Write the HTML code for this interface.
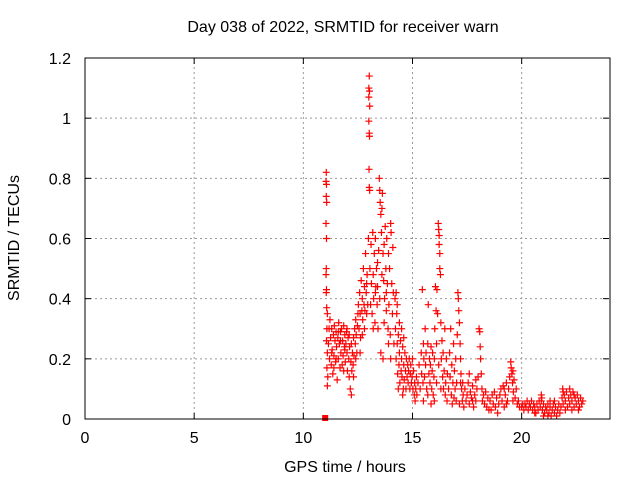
<!DOCTYPE html>
<html><head><meta charset="utf-8"><style>
body{margin:0;background:#fff}
svg{display:block;font-family:"Liberation Sans",sans-serif}
</style></head><body>
<svg id="chart" width="640" height="480" xmlns="http://www.w3.org/2000/svg">
<text x="343" y="32" font-size="16" text-anchor="middle">Day 038 of 2022, SRMTID for receiver warn</text>
<text x="345" y="472" font-size="16" text-anchor="middle">GPS time / hours</text>
<text x="19" y="238" font-size="16" text-anchor="middle" transform="rotate(-90 19 238)">SRMTID / TECUs</text>
<g id="grid"></g><g id="ticks"></g><g id="marks"></g>
<rect x="85" y="58" width="525" height="361" fill="none" stroke="#000" stroke-width="1"/>
</svg>
<script>
const xTicks=[0,5,10,15,20];
const yTicks=[0,0.2,0.4,0.6,0.8,1,1.2];
const yTickLabels=["0","0.2","0.4","0.6","0.8","1","1.2"];
// [hour, TECU]
const spike11=[[11.05,.82],[11.04,.79],[11.06,.78],[11.05,.74],[11.07,.72],[11.04,.65],[11.06,.6],[11.05,.5],[11.04,.48],[11.06,.43],[11.05,.42],[11.07,.37],[11.1,.35],[11.08,.3],[11.06,.26],[11.1,.22],[11.08,.17],[11.12,.14],[11.1,.11]];
const cluster12=[[11.15,.25],[11.18,.3],[11.2,.2],[11.22,.33],[11.25,.27],[11.28,.18],[11.3,.3],[11.32,.23],[11.35,.15],[11.38,.28],[11.4,.21],[11.42,.31],[11.45,.26],[11.48,.19],[11.5,.29],[11.52,.24],[11.55,.13],[11.58,.27],[11.6,.2],[11.62,.32],[11.65,.25],[11.68,.17],[11.7,.29],[11.72,.22],[11.75,.3],[11.78,.18],[11.8,.26],[11.82,.21],[11.85,.31],[11.88,.24],[11.9,.28],[11.92,.19],[11.95,.25],[11.98,.29],[12.0,.22],[12.02,.16],[12.05,.27],[12.08,.2],[12.1,.14],[12.12,.24],[12.15,.1],[12.18,.19],[12.2,.08],[12.22,.16],[12.25,.22],[12.28,.18],[12.3,.27],[12.32,.21],[12.35,.3],[12.38,.25],[12.4,.33],[12.42,.28],[12.45,.22],[12.48,.31],[12.5,.35],[11.3,.22],[11.5,.2],[11.7,.26],[11.9,.23],[12.1,.28],[12.3,.14],[11.4,.17],[11.6,.29],[11.85,.16],[12.0,.3],[12.2,.25],[12.4,.2]];
const rise13=[[12.52,.38],[12.55,.3],[12.58,.42],[12.6,.35],[12.62,.27],[12.65,.46],[12.68,.36],[12.7,.4],[12.72,.33],[12.75,.5],[12.78,.38],[12.8,.44],[12.82,.36],[12.85,.55],[12.88,.42],[12.9,.35],[12.92,.48],[12.95,.38],[12.98,.6],[12.6,.22],[12.7,.28],[12.8,.3],[12.9,.45]];
const spike13=[[13.02,1.14],[13.0,1.1],[13.03,1.09],[13.0,1.07],[13.04,1.04],[13.0,.99],[13.02,.95],[13.03,.94],[13.01,.83],[13.02,.77],[13.04,.76]];
const hump14=[[13.05,.5],[13.08,.38],[13.1,.58],[13.12,.45],[13.15,.35],[13.18,.62],[13.2,.48],[13.22,.4],[13.25,.55],[13.28,.32],[13.3,.6],[13.32,.44],[13.35,.5],[13.38,.38],[13.4,.52],[13.42,.3],[13.45,.56],[13.48,.8],[13.5,.76],[13.52,.72],[13.55,.68],[13.58,.62],[13.6,.7],[13.62,.75],[13.65,.55],[13.68,.46],[13.7,.58],[13.72,.4],[13.75,.64],[13.78,.5],[13.8,.36],[13.82,.6],[13.85,.45],[13.88,.3],[13.9,.55],[13.92,.38],[13.95,.5],[13.98,.28],[14.0,.65],[14.02,.62],[14.05,.45],[14.08,.35],[14.1,.57],[14.12,.42],[14.15,.25],[13.3,.42],[13.5,.4],[13.7,.32],[13.9,.25],[13.2,.3],[13.4,.44],[13.6,.48],[13.8,.42],[14.0,.2],[13.55,.22],[13.65,.2]];
const decay15=[[14.2,.4],[14.22,.3],[14.25,.2],[14.28,.35],[14.3,.25],[14.32,.15],[14.35,.28],[14.38,.18],[14.4,.22],[14.42,.12],[14.45,.26],[14.48,.16],[14.5,.2],[14.52,.14],[14.55,.24],[14.58,.1],[14.6,.18],[14.62,.13],[14.65,.22],[14.68,.16],[14.7,.1],[14.72,.2],[14.75,.14],[14.78,.18],[14.8,.12],[14.82,.16],[14.85,.2],[14.88,.1],[14.9,.15],[14.92,.18],[14.95,.12],[14.98,.14],[15.0,.2],[15.02,.1],[15.05,.16],[15.08,.08],[15.1,.12],[15.12,.06],[15.15,.1],[15.18,.14],[14.3,.38],[14.4,.32],[14.5,.3],[14.6,.27],[14.25,.42],[14.35,.1],[14.55,.08]];
const bump155=[[15.2,.08],[15.25,.12],[15.3,.18],[15.35,.1],[15.4,.22],[15.42,.15],[15.45,.43],[15.48,.12],[15.5,.25],[15.52,.2],[15.55,.14],[15.58,.3],[15.6,.18],[15.62,.22],[15.65,.1],[15.7,.25],[15.72,.38],[15.75,.15],[15.78,.2],[15.8,.12],[15.82,.18],[15.85,.24],[15.88,.1],[15.9,.16],[15.92,.22],[15.95,.08],[15.98,.14],[16.0,.2],[15.5,.06],[15.7,.08],[15.85,.05]];
const spike16=[[16.02,.3],[16.05,.44],[16.08,.36],[16.1,.25],[16.12,.43],[16.15,.35],[16.18,.65],[16.2,.63],[16.22,.61],[16.22,.58],[16.25,.55],[16.25,.5],[16.28,.48],[16.3,.32],[16.32,.2],[16.35,.26],[16.38,.14],[16.4,.22],[16.42,.1],[16.45,.16],[16.48,.3],[16.5,.08],[16.52,.12],[16.55,.2],[16.58,.06],[16.6,.15],[16.1,.12],[16.2,.18],[16.3,.1],[16.0,.06]];
const bump17=[[16.65,.1],[16.7,.22],[16.72,.14],[16.75,.3],[16.78,.08],[16.8,.18],[16.82,.05],[16.85,.12],[16.88,.25],[16.9,.07],[16.92,.16],[16.95,.1],[16.98,.2],[17.0,.06],[17.02,.12],[17.05,.28],[17.08,.42],[17.1,.4],[17.12,.36],[17.15,.32],[17.18,.25],[17.2,.2],[17.22,.15],[17.25,.1],[17.28,.06],[17.3,.12],[17.32,.08],[17.35,.04],[17.4,.1],[17.45,.06],[17.5,.08],[17.15,.05],[17.2,.12]];
const bump18=[[17.55,.12],[17.6,.05],[17.65,.09],[17.7,.07],[17.75,.11],[17.8,.04],[17.85,.08],[17.9,.06],[17.95,.1],[18.0,.14],[18.05,.3],[18.08,.29],[18.1,.24],[18.12,.2],[18.15,.15],[18.18,.1],[18.2,.06],[18.25,.08],[18.3,.05],[18.35,.09],[18.4,.04],[18.45,.07],[18.5,.03],[17.6,.15],[17.75,.06],[17.9,.13]];
const bump19=[[18.55,.06],[18.6,.03],[18.65,.08],[18.7,.05],[18.75,.09],[18.8,.04],[18.85,.07],[18.9,.02],[18.95,.05],[19.0,.08],[19.05,.1],[19.1,.06],[19.15,.11],[19.2,.04],[19.25,.08],[19.3,.12],[19.35,.06],[19.4,.1],[19.45,.14],[19.5,.19],[19.52,.17],[19.55,.15],[19.58,.12],[19.6,.16],[19.62,.09],[19.65,.13],[19.7,.07],[19.75,.1],[19.8,.05],[19.85,.06],[19.9,.04],[19.3,.05],[19.6,.06],[19.2,.1]];
const quiet21=[[20.0,.04],[20.05,.05],[20.1,.03],[20.15,.05],[20.2,.04],[20.25,.06],[20.3,.03],[20.35,.05],[20.4,.04],[20.45,.06],[20.5,.03],[20.55,.05],[20.6,.04],[20.65,.02],[20.7,.05],[20.75,.03],[20.8,.06],[20.85,.04],[20.9,.08],[20.92,.07],[20.95,.03],[21.0,.05],[21.05,.02],[21.1,.04],[21.15,.03],[21.2,.05],[21.25,.02],[21.3,.04],[21.35,.01],[21.4,.03],[21.45,.05],[21.5,.02],[21.55,.04],[21.6,.01],[21.65,.03],[21.7,.05],[21.75,.02],[20.9,.06],[21.3,.06],[21.5,.06],[20.6,.02],[21.0,.01],[21.2,.01]];
const tail22=[[21.8,.04],[21.85,.07],[21.88,.1],[21.9,.05],[21.95,.08],[22.0,.06],[22.05,.09],[22.1,.04],[22.15,.07],[22.2,.05],[22.25,.08],[22.3,.06],[22.35,.09],[22.4,.04],[22.45,.07],[22.5,.05],[22.55,.08],[22.6,.06],[22.65,.04],[22.7,.07],[22.75,.05],[22.8,.06],[22.0,.03],[22.2,.1],[22.4,.08],[22.6,.03],[21.9,.09],[22.3,.03]];
const zeroPoint=[11.0,0];
const points=[].concat(spike11,cluster12,rise13,spike13,hump14,decay15,bump155,spike16,bump17,bump18,bump19,quiet21,tail22);
const ns="http://www.w3.org/2000/svg";
const X0=85,X1=609,Y0=419,Y1=58,XMAX=24,YMAX=1.2;
function xs(t){return X0+(X1-X0)*t/XMAX;}
function ys(v){return Y0-(Y0-Y1)*v/YMAX;}
const grid=document.getElementById('grid'),ticks=document.getElementById('ticks'),marks=document.getElementById('marks');
function mk(tag,attrs,parent){const e=document.createElementNS(ns,tag);for(const k in attrs)e.setAttribute(k,attrs[k]);parent.appendChild(e);return e;}
xTicks.forEach(t=>{
  const x=xs(t);
  if(t>0){const g=mk('line',{x1:x,y1:Y0,x2:x,y2:Y1,stroke:'#999','stroke-dasharray':'2,3'},grid);
  
  }
  mk('line',{x1:x,y1:Y0,x2:x,y2:Y0-6,stroke:'#000'},ticks);
  mk('line',{x1:x,y1:Y1,x2:x,y2:Y1+6,stroke:'#000'},ticks);
  const l=mk('text',{x:x,y:443,'font-size':16,'text-anchor':'middle'},ticks);l.textContent=t;
  
  
});
yTicks.forEach((v,i)=>{
  const y=ys(v);
  if(v>0&&v<YMAX){const g=mk('line',{x1:X0,y1:y,x2:X1,y2:y,stroke:'#999','stroke-dasharray':'2,3'},grid);
  
  }
  mk('line',{x1:X0,y1:y,x2:X0+6,y2:y,stroke:'#000'},ticks);
  mk('line',{x1:X1,y1:y,x2:X1-6,y2:y,stroke:'#000'},ticks);
  const l=mk('text',{x:71,y:y+6,'font-size':16,'text-anchor':'end'},ticks);l.textContent=yTickLabels[i];
  
  
});
points.forEach(p=>{
  const x=xs(p[0]),y=ys(p[1]);
  const m=mk('path',{d:`M${x-3.5} ${y}H${x+3.5}M${x} ${y-3.5}V${y+3.5}`,stroke:'#f00','stroke-width':1.2},marks);
  
  
});
const sq=mk('rect',{x:xs(zeroPoint[0])-3,y:ys(zeroPoint[1])-4,width:6,height:6,fill:'#f00'},marks);


</script>
</body></html>
